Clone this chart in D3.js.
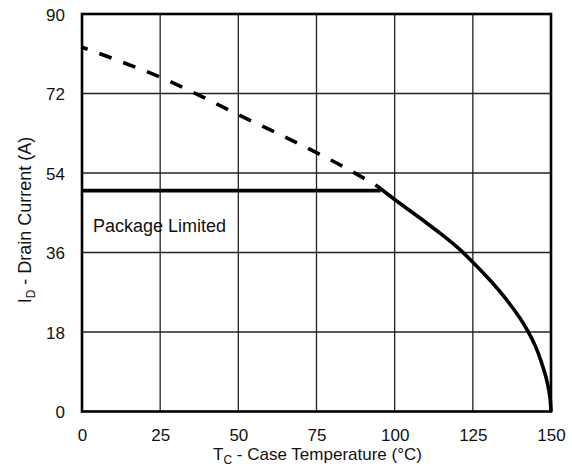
<!DOCTYPE html>
<html>
<head>
<meta charset="utf-8">
<script src="https://cdn.jsdelivr.net/npm/d3@7"></script>
<style>
  html, body { margin: 0; padding: 0; background: #fff; }
  svg { display: block; }
  text { font-family: "Liberation Sans", Arial, Helvetica, sans-serif; fill: #111; }
</style>
</head>
<body>
<svg id="chart" width="572" height="467"></svg>
<script>
// ---- Data ----
const xTicks = [0, 25, 50, 75, 100, 125, 150];
const yTicks = [0, 18, 36, 54, 72, 90];
// Package-limited current (A) vs case temperature (°C)
const packageTemp = [0, 95.5];
const packageCurrent = [50, 50];
// Silicon-limited (dashed, above package limit)
const dashedTemp =    [0,    12.5, 25,   37.5, 50,   62.5, 75,   85,   94.5];
const dashedCurrent = [82.5, 79.2, 75.7, 71.6, 67.2, 63.0, 58.6, 54.9, 51.0];
// Silicon-limited (solid, below package limit)
const solidTemp =    [94.5, 100,  105,  110,  115,  120,  125,  130,  135,  140,  142.5, 145,  147,  148.8, 149.7, 150];
const solidCurrent = [51.0, 48.0, 45.4, 42.8, 40.1, 37.2, 33.8, 30.1, 26.0, 21.2, 18.3,  14.8, 11.0, 6.6,   3.0,   0];

const xLabel = "Case Temperature (°C)";
const yLabel = "Drain Current (A)";
const annotation = "Package Limited";

// ---- Layout ----
const svg = d3.select("#chart");
const mLeft = 82, mRight = 551, mTop = 14, mBottom = 411.5;

const x = d3.scaleLinear().domain([0, 150]).range([mLeft, mRight]);
const y = d3.scaleLinear().domain([0, 90]).range([mBottom, mTop]);

// Grid
const grid = svg.append("g");
grid.selectAll("line.vx").data(xTicks.slice(1, -1)).enter().append("line")
  .attr("x1", d => x(d)).attr("x2", d => x(d))
  .attr("y1", mTop).attr("y2", mBottom)
  .attr("stroke", "#222").attr("stroke-width", 1.3);
grid.selectAll("line.hy").data(yTicks.slice(1, -1)).enter().append("line")
  .attr("x1", mLeft).attr("x2", mRight)
  .attr("y1", d => y(d)).attr("y2", d => y(d))
  .attr("stroke", "#222").attr("stroke-width", 1.3);

// Axes (labels only)
const xAxis = d3.axisBottom(x).tickValues(xTicks).tickSize(0).tickPadding(0);
const gx = svg.append("g").attr("transform", `translate(0,${mBottom})`).call(xAxis);
gx.select(".domain").remove();
gx.selectAll("text").attr("y", 29.5).attr("dy", null)
  .style("font-size", "17px").style("fill", "#111")
  .style("font-family", '"Liberation Sans", Arial, sans-serif');

const yAxis = d3.axisLeft(y).tickValues(yTicks).tickSize(0).tickPadding(0);
const gy = svg.append("g").attr("transform", `translate(${mLeft},0)`).call(yAxis);
gy.select(".domain").remove();
gy.selectAll("text").attr("x", -17).attr("dy", "0.36em")
  .style("font-size", "17px").style("fill", "#111")
  .style("font-family", '"Liberation Sans", Arial, sans-serif');

// Curves
const line = d3.line().x(d => x(d[0])).y(d => y(d[1])).curve(d3.curveMonotoneX);

svg.append("path")
  .datum(dashedTemp.map((t, i) => [t, dashedCurrent[i]]))
  .attr("d", line).attr("fill", "none").attr("stroke", "#000")
  .attr("stroke-width", 3.6).attr("stroke-dasharray", "13,12.5").attr("stroke-dashoffset", 7);

svg.append("path")
  .datum(packageTemp.map((t, i) => [t, packageCurrent[i]]))
  .attr("d", d3.line().x(d => x(d[0])).y(d => y(d[1])))
  .attr("fill", "none").attr("stroke", "#000").attr("stroke-width", 3.8);

svg.append("path")
  .datum(solidTemp.map((t, i) => [t, solidCurrent[i]]))
  .attr("d", d3.line().x(d => x(d[0])).y(d => y(d[1])).curve(d3.curveCatmullRom))
  .attr("fill", "none").attr("stroke", "#000").attr("stroke-width", 3.6)
  .attr("stroke-linejoin", "round");

// Frame
svg.append("rect")
  .attr("x", mLeft).attr("y", mTop)
  .attr("width", mRight - mLeft).attr("height", mBottom - mTop)
  .attr("fill", "none").attr("stroke", "#000").attr("stroke-width", 2.6);

// Annotation
svg.append("text").attr("x", 93).attr("y", 232)
  .style("font-size", "18px").text(annotation);

// X title
const xt = svg.append("text").attr("x", (mLeft + mRight) / 2 + 1).attr("y", 460)
  .attr("text-anchor", "middle").style("font-size", "17px");
xt.append("tspan").text("T");
xt.append("tspan").attr("dy", 4).style("font-size", "12px").text("C");
xt.append("tspan").attr("dy", -4).text(" - " + xLabel);

// Y title
const yt = svg.append("text")
  .attr("transform", `translate(31,220) rotate(-90)`)
  .attr("text-anchor", "middle").style("font-size", "18px");
yt.append("tspan").text("I");
yt.append("tspan").attr("dy", 4).style("font-size", "12px").text("D");
yt.append("tspan").attr("dy", -4).text(" - " + yLabel);
</script>
</body>
</html>
